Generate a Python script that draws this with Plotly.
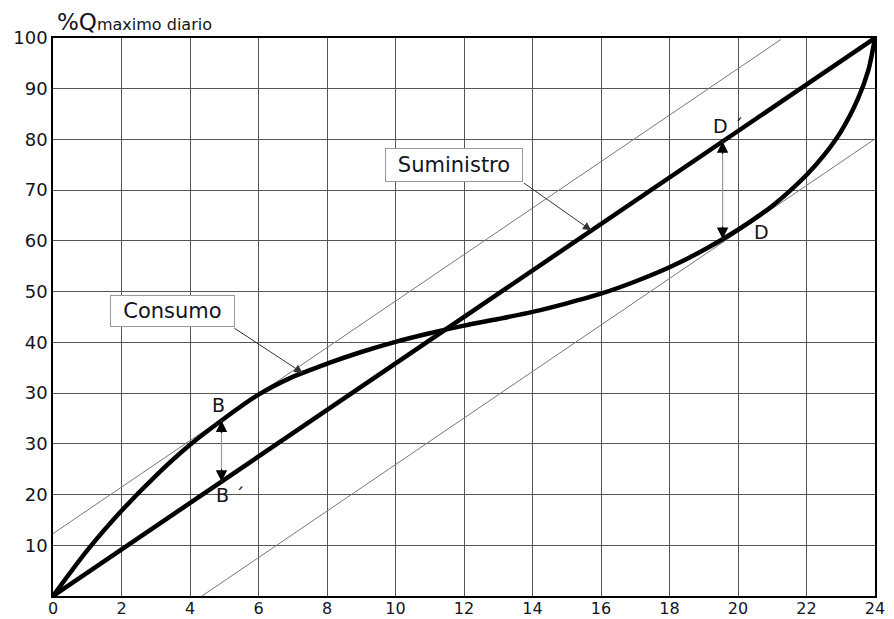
import numpy as np
import plotly.graph_objects as go

# ---- data (axis units: x = hours, y = grid units where top = 110 labelled "100") ----
hours = [0, 1, 2, 3, 4, 5, 6, 7, 8, 9, 10, 11, 12, 13, 14, 15, 16, 17, 18, 19, 20,
         21, 22, 22.5, 23, 23.5, 23.8, 24]
consumo = [0, 9.0, 16.8, 23.7, 29.8, 35.0, 39.7, 43.2, 45.8, 48.1, 50.1, 51.8, 53.3,
           54.6, 56.0, 57.7, 59.6, 62.0, 64.8, 68.2, 72.2, 76.9, 83.0, 86.8, 91.5,
           98.0, 103.5, 110]
suministro_x = [0, 24]
suministro_y = [0, 110]
tangente_sup_x = [0, 21.25]
tangente_sup_y = [12.3, 109.7]
tangente_inf_x = [4.35, 24]
tangente_inf_y = [0, 90.1]

x_ticks = list(range(0, 25, 2))
y_tickvals = [10, 20, 30, 40, 50, 60, 70, 80, 90, 100, 110]
y_ticktext = ["10", "20", "30", "30", "40", "50", "60", "70", "80", "90", "100"]

x_B = 4.92
x_D = 19.55

def supply_at(x):
    return float(np.interp(x, suministro_x, suministro_y))

def consumo_at(x):
    return float(np.interp(x, hours, consumo))

FONT = "DejaVu Sans"
TXT = "#141420"

fig = go.Figure()

# thin tangent lines
fig.add_trace(go.Scatter(x=tangente_sup_x, y=tangente_sup_y, mode="lines",
                         line=dict(color="#777", width=1), hoverinfo="skip"))
fig.add_trace(go.Scatter(x=tangente_inf_x, y=tangente_inf_y, mode="lines",
                         line=dict(color="#777", width=1), hoverinfo="skip"))

# supply line
fig.add_trace(go.Scatter(x=suministro_x, y=suministro_y, mode="lines",
                         line=dict(color="black", width=4.5), hoverinfo="skip"))
# consumption curve
fig.add_trace(go.Scatter(x=hours, y=consumo, mode="lines",
                         line=dict(color="black", width=4.5, shape="spline", smoothing=0.8),
                         hoverinfo="skip"))

# vertical double arrows (B-B', D-D')
for xv in (x_B, x_D):
    lo = min(supply_at(xv), consumo_at(xv))
    hi = max(supply_at(xv), consumo_at(xv))
    fig.add_trace(go.Scatter(x=[xv, xv], y=[lo, hi], mode="lines",
                             line=dict(color="#999", width=1.2), hoverinfo="skip"))

annotations = []
for xv in (x_B, x_D):
    lo = min(supply_at(xv), consumo_at(xv))
    hi = max(supply_at(xv), consumo_at(xv))
    annotations.append(dict(x=xv, y=hi, xref="x", yref="y", text="", showarrow=True,
                            ax=0, ay=14, arrowhead=2, arrowsize=1.9, arrowwidth=1.2,
                            arrowcolor="black", standoff=0))
    annotations.append(dict(x=xv, y=lo, xref="x", yref="y", text="", showarrow=True,
                            ax=0, ay=-14, arrowhead=2, arrowsize=1.9, arrowwidth=1.2,
                            arrowcolor="black", standoff=0))

# callout arrows
annotations.append(dict(x=7.29, y=consumo_at(7.29), xref="x", yref="y", text="",
                        showarrow=True, axref="x", ayref="y", ax=5.25, ay=53.0,
                        arrowhead=2, arrowsize=1.7, arrowwidth=1, arrowcolor="#333",
                        standoff=0))
annotations.append(dict(x=15.72, y=supply_at(15.72), xref="x", yref="y", text="",
                        showarrow=True, axref="x", ayref="y", ax=13.71, ay=81.6,
                        arrowhead=2, arrowsize=1.7, arrowwidth=1, arrowcolor="#333",
                        standoff=0))

# callout boxes
annotations.append(dict(x=3.48, y=56.2, xref="x", yref="y", text="Consumo",
                        showarrow=False, font=dict(family=FONT, size=21, color=TXT),
                        bgcolor="white", bordercolor="#999", borderwidth=1, borderpad=3,
                        width=117, height=24))
annotations.append(dict(x=11.70, y=85.0, xref="x", yref="y", text="Suministro",
                        showarrow=False, font=dict(family=FONT, size=21, color=TXT),
                        bgcolor="white", bordercolor="#999", borderwidth=1, borderpad=3,
                        width=130, height=26))

# point labels
for txt, xv, yv in [("A", 23.67, 112.0), ("D ´", 19.7, 92.7), ("D", 20.68, 71.8),
                    ("B", 4.82, 37.6), ("B ´", 5.19, 20.0)]:
    annotations.append(dict(x=xv, y=yv, xref="x", yref="y", text=txt, showarrow=False,
                            font=dict(family=FONT, size=19, color=TXT)))

# y title
annotations.append(dict(x=0, y=1, xref="paper", yref="paper", xanchor="left",
                        yanchor="bottom", xshift=2, yshift=1, showarrow=False,
                        text="%Q<span style='font-size:16px'>maximo diario</span>",
                        font=dict(family=FONT, size=23, color=TXT)))

# page body has an 8px margin, so the figure is sized to the remaining window
fig.update_layout(
    width=886, height=611,
    margin=dict(l=45, r=19, t=30, b=23, autoexpand=False),
    paper_bgcolor="white", plot_bgcolor="white",
    showlegend=False,
    annotations=annotations,
    xaxis=dict(range=[0, 24], tickvals=x_ticks, ticktext=[str(v) for v in x_ticks],
               showgrid=True, gridcolor="#555", gridwidth=1, zeroline=False,
               showline=True, linecolor="black", linewidth=1.5, mirror=True,
               automargin=False, ticks="", ticklabelstandoff=-3,
               tickfont=dict(family=FONT, size=16, color=TXT)),
    yaxis=dict(range=[0, 110], tickvals=y_tickvals, ticktext=y_ticktext,
               showgrid=True, gridcolor="#555", gridwidth=1, zeroline=False,
               showline=True, linecolor="black", linewidth=1.5, mirror=True,
               automargin=False, ticks="", tickfont=dict(family=FONT, size=18, color=TXT)),
)

fig.write_html("out.html")
